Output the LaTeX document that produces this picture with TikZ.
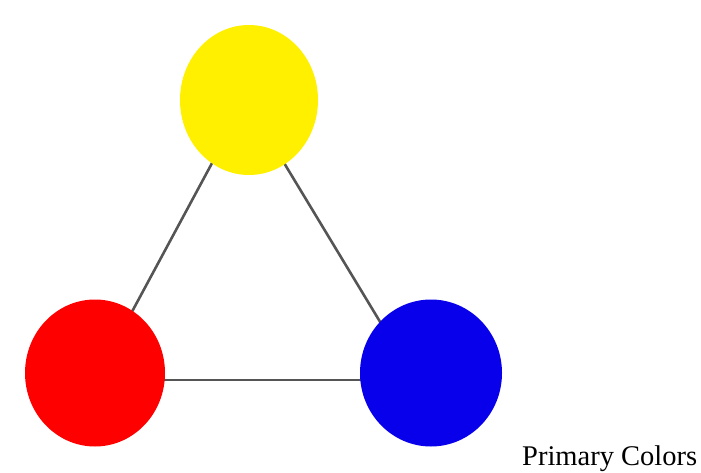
\documentclass[tikz,border=0pt]{standalone}
\usepackage{fontspec}
\setmainfont{Liberation Serif}
\usetikzlibrary{shapes.geometric}
\pgfdeclarelayer{background}
\pgfsetlayers{background,main}
\definecolor{cyel}{RGB}{255,240,0}
\definecolor{cred}{RGB}{255,0,0}
\definecolor{cblu}{RGB}{8,0,235}
\definecolor{cline}{RGB}{85,85,85}
\begin{document}
\begin{tikzpicture}[x=1pt,y=-1pt,
  dot/.style={ellipse,draw=none,inner sep=0pt},
  link/.style={draw=cline,line width=2.6pt}]
\useasboundingbox (0,0) rectangle (701,473);
\node[dot,fill=cyel,minimum width=138pt,minimum height=150pt] (y) at (249,100) {};
\node[dot,fill=cred,minimum width=140pt,minimum height=147pt] (r) at (95,373) {};
\node[dot,fill=cblu,minimum width=142pt,minimum height=147pt] (b) at (431,373) {};
\begin{pgfonlayer}{background}
\draw[link] ([xshift=-3pt]y.center) -- ([xshift=4pt]r.center);
\draw[link] ([xshift=-3pt]y.center) -- ([xshift=-20pt]b.center);
\draw[link] ([yshift=-7pt]r.center) -- ([yshift=-7pt]b.center);
\end{pgfonlayer}
\node[anchor=base west,inner sep=0pt,font=\fontsize{28.5}{30}\selectfont] (t) at (522,465) {Primary Colors};
\end{tikzpicture}
\end{document}
